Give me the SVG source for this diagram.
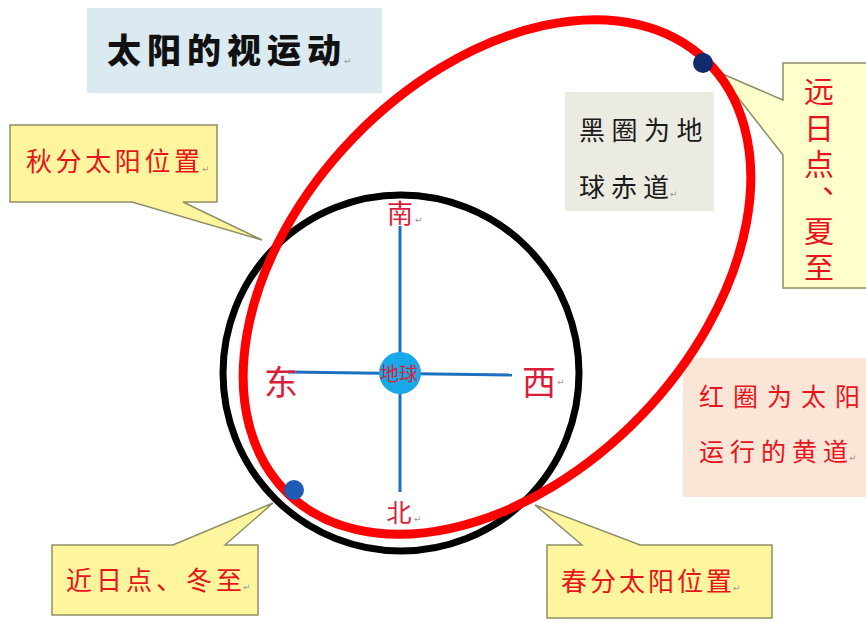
<svg xmlns="http://www.w3.org/2000/svg" width="866" height="622" viewBox="0 0 866 622">
<style>
.cjk{font-family:"Noto Sans CJK SC","Noto Sans",sans-serif}
.red{fill:#e8141c}
.callout{fill:#fdf69e;stroke:#8f8f66;stroke-width:1.5}
.pm{font-family:"DejaVu Sans",sans-serif;font-size:9px;fill:#999}
.dir{font-family:"Noto Sans CJK SC",sans-serif;fill:#d81e3a}
</style>
<rect width="866" height="622" fill="#ffffff"/>
<g id="title">
<rect x="87" y="8" width="295" height="85" fill="#dbeaf0"/>
<text class="cjk" x="107 147 187 227 267 307" y="63" font-size="34" font-weight="900" fill="#111">太阳的视运动</text>
<text class="pm" x="344" y="64">↵</text>
</g>
<g id="autumn-callout">
<path class="callout" d="M10,125 H217 V202 H183 L262,240 L132,202 H10 Z"/>
<text class="cjk red" x="26 55.6 85.2 114.8 144.4 174" y="171" font-size="26">秋分太阳位置</text>
<text class="pm" x="202" y="172">↵</text>
</g>
<g id="equator-note">
<rect x="565" y="92" width="149" height="119" fill="#ebebe2"/>
<text class="cjk" x="579 611.5 644 676.5" y="140" font-size="26" fill="#1a1a1a">黑圈为地</text>
<text class="cjk" x="579 611 643" y="197" font-size="26" fill="#1a1a1a">球赤道</text>
<text class="pm" x="670" y="197">↵</text>
</g>
<g id="aphelion-callout">
<path class="callout" style="fill:#ffffcc" d="M783,63 H872 V288 H783 V155 L718,72 L783,100 Z"/>
<text class="cjk red" font-size="30" writing-mode="vertical-rl" letter-spacing="6.5" x="819" y="76">远日点<tspan letter-spacing="0" style="font-feature-settings:'vert' 0">、</tspan>夏至</text>
</g>
<g id="ecliptic-note">
<rect x="683" y="358" width="190" height="139" fill="#fbe5d6"/>
<text class="cjk red" x="699 733 767 801 835" y="406" font-size="25">红圈为太阳</text>
<text class="cjk red" x="699 730 761 792 823" y="461" font-size="25">运行的黄道</text>
<text class="pm" x="849" y="461">↵</text>
</g>
<g id="perihelion-callout">
<path class="callout" d="M52,545 H173 L273,503 L225,545 H258 V615 H52 Z"/>
<text class="cjk red" x="66 96 126 156 186 216" y="590" font-size="26">近日点、冬至</text>
<text class="pm" x="243" y="590">↵</text>
</g>
<g id="vernal-callout">
<path class="callout" d="M547,545 H582 L535,505 L640,545 H772 V618 H547 Z"/>
<text class="cjk red" x="561 590 619 648 677 706" y="591" font-size="26">春分太阳位置</text>
<text class="pm" x="733" y="591">↵</text>
</g>
<g id="connectors">
<circle id="equator" cx="401" cy="373" r="178" fill="none" stroke="#000" stroke-width="7"/>
<ellipse id="ecliptic" cx="497" cy="277" rx="301" ry="200" transform="rotate(-46 497 277)" fill="none" stroke="#ff0000" stroke-width="9"/>
<line x1="400" y1="226" x2="400" y2="492" stroke="#1f6fc0" stroke-width="3"/>
<line x1="288" y1="372" x2="512" y2="375" stroke="#1f6fc0" stroke-width="3"/>
</g>
<g id="earth">
<circle cx="400" cy="373" r="21" fill="#18a8e8"/>
<text x="399" y="381" text-anchor="middle" font-size="19" class="cjk" fill="#d81e3a">地球</text>
</g>
<g id="aphelion-dot"><circle cx="703" cy="63" r="10" fill="#0f2b6e"/></g>
<g id="perihelion-dot"><circle cx="294" cy="490" r="10" fill="#1e5cb3"/></g>
<g id="labels">
<text class="dir" x="400" y="223" font-size="26" text-anchor="middle">南</text>
<text class="pm" x="415" y="223">↵</text>
<text class="dir" x="399" y="522" font-size="25" text-anchor="middle">北</text>
<text class="pm" x="414" y="522">↵</text>
<text class="dir" x="281" y="395" font-size="34" text-anchor="middle">东</text>
<text class="dir" x="539" y="395" font-size="34" text-anchor="middle">西</text>
<text class="pm" x="557" y="385">↵</text>
</g>
</svg>
